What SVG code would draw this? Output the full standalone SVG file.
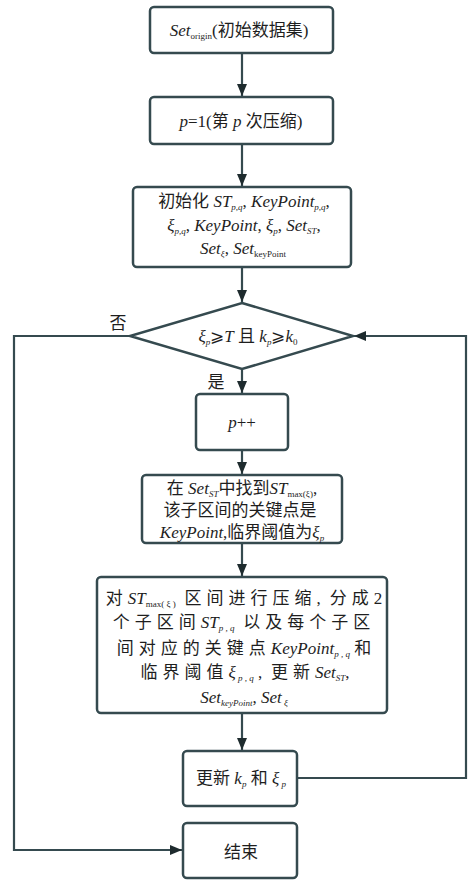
<svg xmlns="http://www.w3.org/2000/svg" width="476" height="880" viewBox="0 0 476 880">
<style>
.box{fill:#fff;stroke:#354a4f;stroke-width:2.5}
.ln{fill:none;stroke:#354a4f;stroke-width:2.2}
.t{font-family:"Liberation Serif","Noto Sans CJK SC",serif;font-size:17px;fill:#1e1e1e;text-anchor:middle}
.c{font-family:"Noto Sans CJK SC","Liberation Serif",sans-serif}
.w{letter-spacing:5px}
.i{font-style:italic}
.s{font-size:9px;baseline-shift:-3px}
</style>
<defs>
<marker id="ah" viewBox="0 0 12 10" refX="12" refY="5" markerWidth="12" markerHeight="10" markerUnits="userSpaceOnUse" orient="auto">
<path d="M0,0 L12,5 L0,10 z" fill="#1e2b2e"/>
</marker>
</defs>
<g id="connectors">
<path class="ln" d="M242,53 V96" marker-end="url(#ah)"/>
<path class="ln" d="M242,144 V186" marker-end="url(#ah)"/>
<path class="ln" d="M242,267 V302" marker-end="url(#ah)"/>
<path class="ln" d="M242,369 V393" marker-end="url(#ah)"/>
<path class="ln" d="M242,450 V474" marker-end="url(#ah)"/>
<path class="ln" d="M242,543 V576" marker-end="url(#ah)"/>
<path class="ln" d="M242,713 V750" marker-end="url(#ah)"/>
<path class="ln" d="M130,336 H14 V850 H182" marker-end="url(#ah)"/>
<path class="ln" d="M297,778 H466 V336 H354" marker-end="url(#ah)"/>
<text class="t c" x="118" y="329" font-size="15">否</text>
<text class="t c" x="216" y="388" font-size="15">是</text>
</g>
<g id="n1">
<rect class="box" x="150" y="7" width="183" height="46" rx="4"/>
<text class="t" x="239" y="36"><tspan class="i">Set</tspan><tspan class="s">origin</tspan>(<tspan class="c">初始数据集</tspan>)</text>
</g>
<g id="n2">
<rect class="box" x="150" y="97" width="183" height="47" rx="4"/>
<text class="t" x="241" y="127"><tspan class="i">p</tspan>=1(<tspan class="c">第</tspan><tspan class="i"> p </tspan><tspan class="c">次压缩</tspan>)</text>
</g>
<g id="n3">
<rect class="box" x="133" y="187" width="218" height="80" rx="4"/>
<text class="t" x="244" y="207"><tspan class="c">初始化</tspan> <tspan class="i">ST</tspan><tspan class="s i">p,q</tspan>, <tspan class="i">KeyPoint</tspan><tspan class="s i">p,q</tspan>,</text>
<text class="t" x="244" y="231"><tspan class="i">ξ</tspan><tspan class="s i">p,q</tspan>, <tspan class="i">KeyPoint</tspan>, <tspan class="i">ξ</tspan><tspan class="s i">p</tspan>, <tspan class="i">Set</tspan><tspan class="s i">ST</tspan>,</text>
<text class="t" x="243" y="254"><tspan class="i">Set</tspan><tspan class="s i">ξ</tspan>, <tspan class="i">Set</tspan><tspan class="s">keyPoint</tspan></text>
</g>
<g id="n4">
<polygon class="box" points="242,303 353,336 242,369 130,336"/>
<text class="t" x="248" y="342"><tspan class="i">ξ</tspan><tspan class="s i">p</tspan>⩾<tspan class="i">T</tspan> <tspan class="c">且</tspan> <tspan class="i">k</tspan><tspan class="s i">p</tspan>⩾<tspan class="i">k</tspan><tspan class="s">0</tspan></text>
</g>
<g id="n5">
<rect class="box" x="196" y="394" width="92" height="56" rx="4"/>
<text class="t" x="242" y="428"><tspan class="i">p</tspan>++</text>
</g>
<g id="n6">
<rect class="box" x="142" y="475" width="200" height="68" rx="4"/>
<text class="t" x="242" y="494" font-size="17.5"><tspan class="c">在</tspan> <tspan class="i">Set</tspan><tspan class="s i">ST</tspan><tspan class="c">中找到</tspan><tspan class="i">ST</tspan><tspan class="s">max(ξ)</tspan>,</text>
<text class="t c" x="240" y="516" font-size="17.5">该子区间的关键点是</text>
<text class="t" x="242" y="538" font-size="17.5"><tspan class="i">KeyPoint</tspan>,<tspan class="c">临界阈值为</tspan><tspan class="i">ξ</tspan><tspan class="s i">p</tspan></text>
</g>
<g id="n7">
<rect class="box" x="97" y="577" width="290" height="136" rx="4"/>
<text class="t" x="244" y="604"><tspan class="c w">对</tspan><tspan class="i">ST</tspan><tspan class="s">max( ξ )</tspan><tspan class="c w"> 区间进行压缩</tspan>,<tspan class="c w"> 分成</tspan>2</text>
<text class="t" x="244" y="628"><tspan class="c w">个子区间</tspan><tspan class="i">ST</tspan><tspan class="s i">p , q</tspan><tspan class="c w"> 以及每个子区</tspan></text>
<text class="t" x="244" y="654"><tspan class="c w">间对应的关键点</tspan><tspan class="i">KeyPoint</tspan><tspan class="s i">p , q</tspan> <tspan class="c">和</tspan></text>
<text class="t" x="245" y="678"><tspan class="c w">临界阈值</tspan><tspan class="i">ξ</tspan><tspan class="s i"> p , q</tspan> ,<tspan class="c w"> 更新</tspan><tspan class="i">Set</tspan><tspan class="s i">ST</tspan>,</text>
<text class="t" x="244" y="703"><tspan class="i">Set</tspan><tspan class="s i">keyPoint</tspan>, <tspan class="i">Set</tspan><tspan class="s i"> ξ</tspan></text>
</g>
<g id="n8">
<rect class="box" x="183" y="751" width="114" height="55" rx="4"/>
<text class="t" x="241" y="784"><tspan class="c">更新</tspan> <tspan class="i">k</tspan><tspan class="s i">p</tspan> <tspan class="c">和</tspan> <tspan class="i">ξ</tspan><tspan class="s i"> p</tspan></text>
</g>
<g id="n9">
<rect class="box" x="183" y="823" width="114" height="55" rx="4"/>
<text class="t c" x="241" y="858">结束</text>
</g>
</svg>
